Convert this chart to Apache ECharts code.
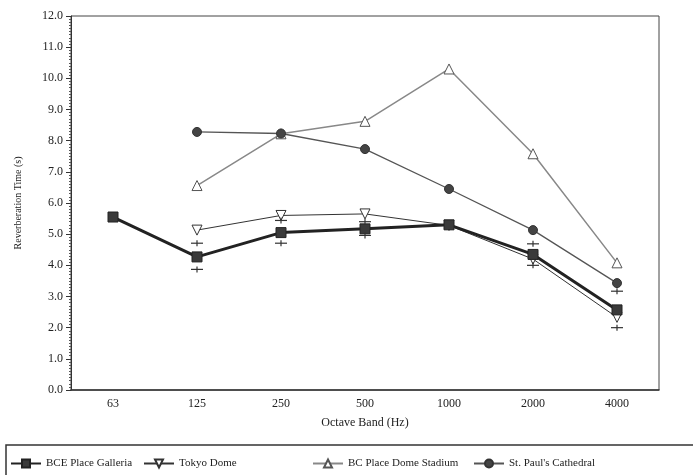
<!DOCTYPE html>
<html>
<head>
<meta charset="utf-8">
<script src="https://cdn.jsdelivr.net/npm/echarts@6/dist/echarts.min.js"></script>
<style>
html,body{margin:0;padding:0;background:#fff;}
#c{width:693px;height:475px;}
</style>
</head>
<body>
<div id="c"></div>
<script>
var categories = ['63', '125', '250', '500', '1000', '2000', '4000'];
var bcePlace = [5.55, 4.27, 5.05, 5.17, 5.3, 4.35, 2.57];
var tokyoDome = [null, 5.13, 5.6, 5.65, 5.28, 4.2, 2.33];
var bcPlaceDome = [null, 6.56, 8.22, 8.62, 10.3, 7.58, 4.08];
var stPauls = [null, 8.28, 8.23, 7.73, 6.45, 5.13, 3.43];
// error-bar caps for BCE Place Galleria: [category index, low, high]
var bceErrLow = [null, 3.87, 4.71, 4.96, null, 4.0, 2.0];
var bceErrHigh = [null, 4.71, 5.44, 5.4, null, 4.69, 3.17];

var FONT = 'Liberation Serif';
var errData = [];
for (var i = 0; i < categories.length; i++) {
  if (bceErrLow[i] != null) errData.push([i, bceErrLow[i], bceErrHigh[i]]);
}

var chart = echarts.init(document.getElementById('c'));
function legendAt(name, left) {
  return {
    data: [name], left: left, top: 453, itemWidth: 30, itemHeight: 10, itemGap: 5,
    textStyle: {fontFamily: FONT, fontSize: 11, color: '#222'}
  };
}
chart.setOption({
  animation: false,
  backgroundColor: '#fff',
  grid: {left: 71, right: 34, top: 16, bottom: 85, show: true, borderColor: '#444', borderWidth: 1},
  legend: [
    legendAt('BCE Place Galleria', 5),
    legendAt('Tokyo Dome', 138),
    legendAt('BC Place Dome Stadium', 307),
    legendAt("St. Paul's Cathedral", 468)
  ],
  graphic: [{
    type: 'rect', shape: {x: 6, y: 445, width: 700, height: 40},
    style: {fill: 'none', stroke: '#333', lineWidth: 1.5}, silent: true
  }],
  xAxis: {
    type: 'category', data: categories, boundaryGap: true,
    name: 'Octave Band (Hz)', nameLocation: 'middle', nameGap: 27,
    nameTextStyle: {fontFamily: FONT, fontSize: 12, color: '#222'},
    axisLine: {lineStyle: {color: '#333', width: 1.5}},
    axisTick: {alignWithLabel: true, length: 4, lineStyle: {color: '#333'}},
    axisLabel: {fontFamily: FONT, fontSize: 12, color: '#222', margin: 8},
    splitLine: {show: false}
  },
  yAxis: {
    type: 'value', min: 0, max: 12, interval: 1,
    name: 'Reverberation Time (s)', nameLocation: 'middle', nameGap: 48,
    nameTextStyle: {fontFamily: FONT, fontSize: 10, color: '#222'},
    axisLine: {show: true, lineStyle: {color: '#333', width: 1}},
    axisTick: {show: true, length: 5, lineStyle: {color: '#333'}},
    minorTick: {show: true, splitNumber: 10, length: 2, lineStyle: {color: '#555'}},
    axisLabel: {fontFamily: FONT, fontSize: 12, color: '#222', margin: 8,
      formatter: function (v) { return v.toFixed(1); }},
    splitLine: {show: false}
  },
  series: [
    {
      name: 'BCE Place Galleria', type: 'line', data: bcePlace, z: 5,
      symbol: 'rect', symbolSize: 10,
      lineStyle: {color: '#222', width: 3},
      itemStyle: {color: '#3a3a3a', borderColor: '#222', borderWidth: 1}
    },
    {
      name: 'Tokyo Dome', type: 'line', data: tokyoDome, z: 4,
      symbol: 'triangle', symbolRotate: 180, symbolSize: 10,
      lineStyle: {color: '#333', width: 1},
      itemStyle: {color: '#fff', borderColor: '#333', borderWidth: 1}
    },
    {
      name: 'BC Place Dome Stadium', type: 'line', data: bcPlaceDome, z: 3,
      symbol: 'triangle', symbolSize: 10,
      lineStyle: {color: '#888', width: 1.5},
      itemStyle: {color: '#fff', borderColor: '#555', borderWidth: 1}
    },
    {
      name: "St. Paul's Cathedral", type: 'line', data: stPauls, z: 3,
      symbol: 'circle', symbolSize: 9,
      lineStyle: {color: '#555', width: 1.3},
      itemStyle: {color: '#444', borderColor: '#333', borderWidth: 1}
    },
    {
      type: 'custom', data: errData, z: 6, silent: true,
      renderItem: function (params, api) {
        var lo = api.coord([api.value(0), api.value(1)]);
        var hi = api.coord([api.value(0), api.value(2)]);
        var st = {stroke: '#333', lineWidth: 1.2};
        function cap(p) {
          return [
            {type: 'line', shape: {x1: p[0] - 6, y1: p[1], x2: p[0] + 6, y2: p[1]}, style: st},
            {type: 'line', shape: {x1: p[0], y1: p[1] - 3, x2: p[0], y2: p[1] + 3}, style: st}
          ];
        }
        return {type: 'group', children: cap(lo).concat(cap(hi))};
      }
    }
  ]
});
</script>
</body>
</html>
